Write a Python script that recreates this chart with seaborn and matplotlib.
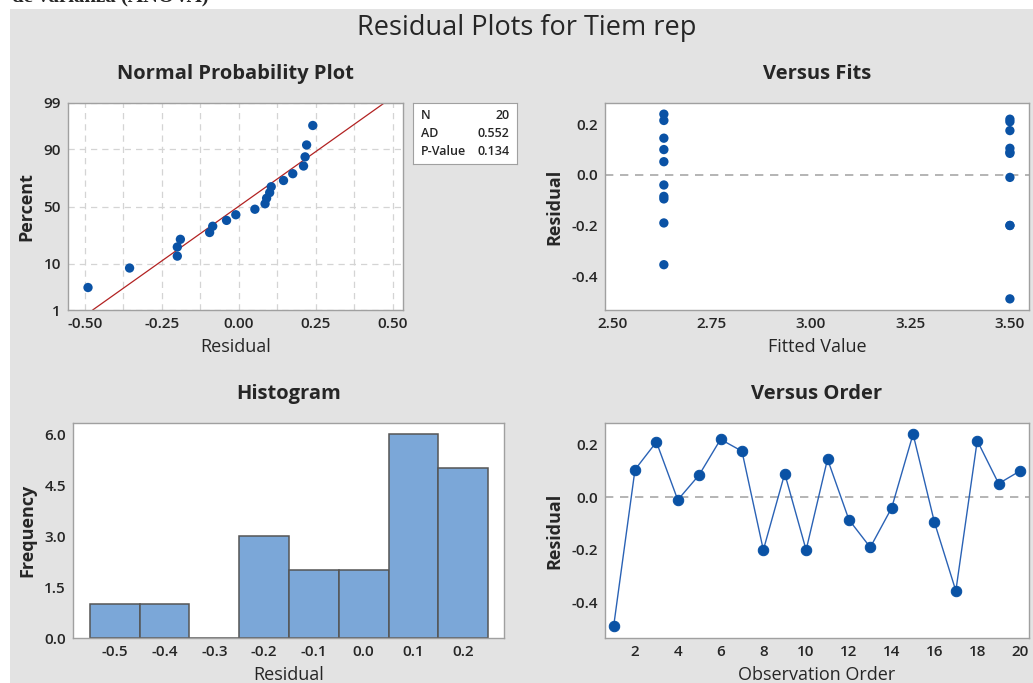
import numpy as np
import pandas as pd
import matplotlib.pyplot as plt
import matplotlib.patches as mpatches
from matplotlib.ticker import MultipleLocator
from statistics import NormalDist
import seaborn as sns

# Residuals in observation order
observation = list(range(1, 21))
residual = [-0.49, 0.105, 0.21, -0.01, 0.085, 0.22, 0.175, -0.20, 0.09, -0.20,
            0.145, -0.085, -0.19, -0.04, 0.24, -0.095, -0.355, 0.215, 0.052, 0.10]
fitted = [3.50] * 10 + [2.63] * 10

# Summary statistics shown in the box
stats_labels = ["N", "AD", "P-Value"]
stats_values = ["20", "0.552", "0.134"]

pct_ticks = [1, 10, 50, 90, 99]
hist_edges = [-0.55, -0.45, -0.35, -0.25, -0.15, -0.05, 0.05, 0.15, 0.25]

df = pd.DataFrame({"order": observation, "resid": residual, "fit": fitted})

sns.set_style("white")
plt.rcParams['font.family'] = ['Open Sans', 'DejaVu Sans']

BLUE = "#0a52a5"
GRAY_BG = "#e3e3e3"
SPINE = "#a0a0a0"

W, H = 1033, 683
fig = plt.figure(figsize=(W / 100, H / 100), dpi=100)
fig.patch.set_facecolor("white")
fig.patches.append(mpatches.Rectangle((10 / W, 0), 1 - 10 / W, 1 - 9 / H,
                                      transform=fig.transFigure,
                                      facecolor=GRAY_BG, edgecolor="none", zorder=-5))

# clipped heading from the document above the chart
fig.text(12 / W, 1 + 4 / H, "de varianza (ANOVA)", family="Liberation Serif",
         fontsize=15, fontweight="bold", ha="left", va="center")

fig.text(527 / W, 1 - 28 / H, "Residual Plots for Tiem rep", fontsize=19.5,
         ha="center", va="center")

nd = NormalDist()


def box(l, t, r, b):
    return fig.add_axes([l / W, 1 - b / H, (r - l) / W, (b - t) / H])


def style(ax, xlab, ylab, title):
    for s in ax.spines.values():
        s.set_color(SPINE)
        s.set_linewidth(1)
    ax.tick_params(axis="both", which="major", length=3, width=1, color=SPINE,
                   labelsize=11, pad=2)
    for lab in ax.get_xticklabels() + ax.get_yticklabels():
        lab.set_fontweight("semibold")
    ax.set_xlabel(xlab, fontsize=13, labelpad=5)
    ax.set_ylabel(ylab, fontsize=13, fontweight="bold", labelpad=6)
    ax.set_title(title, fontsize=14.5, fontweight="bold", pad=17)


ax1 = box(68, 103, 403, 310)
ax2 = box(605, 103, 1029, 310)
ax3 = box(73, 423, 504, 638)
ax4 = box(605, 423, 1029, 638)

# Normal probability plot
n = len(residual)
srt = np.sort(residual)
z = np.array([nd.inv_cdf((i - 0.3) / (n + 0.4)) for i in range(1, n + 1)])
zlo, zhi = nd.inv_cdf(0.01), nd.inv_cdf(0.99)
mu, sd = np.mean(residual), np.std(residual, ddof=1)
zz = np.array([zlo, zhi])
ax1.plot(mu + sd * zz, zz, color="#b22222", lw=0.9, zorder=2)
sns.scatterplot(x=srt, y=z, ax=ax1, color=BLUE, s=45, edgecolor="none", zorder=3)
ax1.set_ylim(zlo, zhi)
ax1.set_yticks([nd.inv_cdf(p / 100) for p in pct_ticks])
ax1.set_yticklabels([str(p) for p in pct_ticks])
ax1.set_xticks([-0.5, -0.25, 0.0, 0.25, 0.5])
ax1.set_xticklabels(["-0.50", "-0.25", "0.00", "0.25", "0.50"])
ax1.xaxis.set_minor_locator(MultipleLocator(0.125))
ax1.grid(True, which="both", color="#d4d4d4", ls=(0, (5, 4)), lw=0.9)
ax1.tick_params(axis="x", which="minor", length=0)
style(ax1, "Residual", "Percent", "Normal Probability Plot")
ax1.set_xlim(-0.555, 0.533)

# stats box
bx = fig.add_axes([413 / W, 1 - 164 / H, 104 / W, 61 / H])
bx.set_xticks([]); bx.set_yticks([])
for s in bx.spines.values():
    s.set_color(SPINE)
for i, (lab, val) in enumerate(zip(stats_labels, stats_values)):
    yy = 0.8 - i * 0.3
    bx.text(0.08, yy, lab, fontsize=9, va="center", ha="left", fontweight="semibold")
    bx.text(0.93, yy, val, fontsize=9, va="center", ha="right", fontweight="semibold")

# Versus fits
sns.scatterplot(data=df, x="fit", y="resid", ax=ax2, color=BLUE, s=45,
                edgecolor="none", zorder=3)
ax2.axhline(0, color="#a8a8a8", ls=(0, (5, 4)), lw=1.2, zorder=1)
ax2.set_xlim(2.482, 3.548)
ax2.set_ylim(-0.534, 0.284)
ax2.set_xticks([2.50, 2.75, 3.00, 3.25, 3.50])
ax2.set_xticklabels(["2.50", "2.75", "3.00", "3.25", "3.50"])
ax2.set_yticks([-0.4, -0.2, 0.0, 0.2])
ax2.set_yticklabels(["-0.4", "-0.2", "0.0", "0.2"])
style(ax2, "Fitted Value", "Residual", "Versus Fits")

# Histogram
sns.histplot(data=df, x="resid", bins=hist_edges, ax=ax3, color="#7ba7d8",
             edgecolor="#555555", linewidth=1.1, alpha=1)
ax3.set_xlim(-0.584, 0.282)
ax3.set_ylim(0, 6.33)
ax3.set_xticks([-0.5, -0.4, -0.3, -0.2, -0.1, 0.0, 0.1, 0.2])
ax3.set_xticklabels(["-0.5", "-0.4", "-0.3", "-0.2", "-0.1", "0.0", "0.1", "0.2"])
ax3.set_yticks([0, 1.5, 3.0, 4.5, 6.0])
ax3.set_yticklabels(["0.0", "1.5", "3.0", "4.5", "6.0"])
style(ax3, "Residual", "Frequency", "Histogram")

# Versus order
sns.lineplot(data=df, x="order", y="resid", ax=ax4, color="#2a62b5", lw=1,
             marker="o", markersize=7.5, markerfacecolor=BLUE, markeredgecolor=BLUE)
ax4.axhline(0, color="#a8a8a8", ls=(0, (5, 4)), lw=1.2, zorder=0)
ax4.set_xlim(0.597, 20.42)
ax4.set_ylim(-0.534, 0.282)
ax4.set_xticks(list(range(2, 21, 2)))
ax4.set_yticks([-0.4, -0.2, 0.0, 0.2])
ax4.set_yticklabels(["-0.4", "-0.2", "0.0", "0.2"])
style(ax4, "Observation Order", "Residual", "Versus Order")

fig.savefig("out.png", dpi=100, facecolor=fig.get_facecolor())
